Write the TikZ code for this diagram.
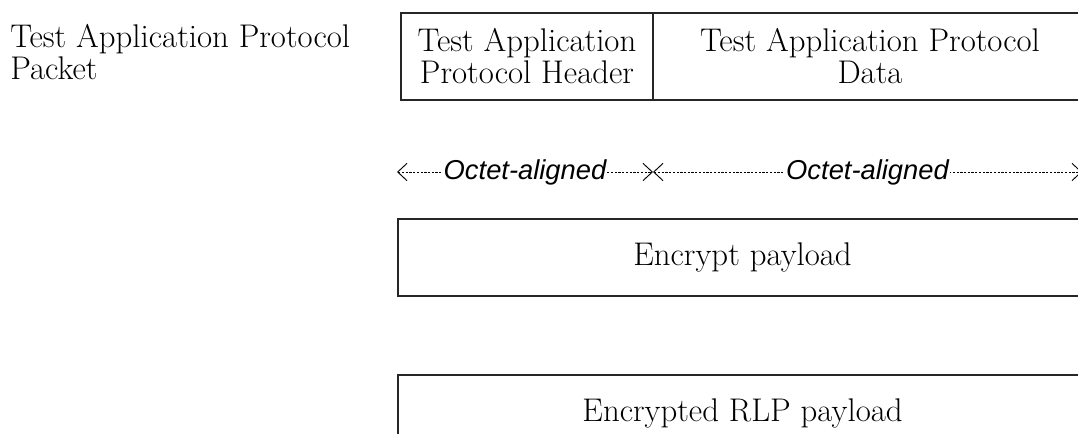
\documentclass[tikz,border=0pt]{standalone}
\usepackage{fontspec}
\newfontfamily\labelsans{Liberation Sans}
\usetikzlibrary{arrows.meta}

\tikzset{
  field/.style={draw=black!85, line width=0.9pt, inner sep=0pt, align=center,
                font=\fontsize{24.6}{24}\selectfont},
  caption/.style={inner sep=0pt, align=left, font=\fontsize{24.6}{24}\selectfont},
  barb/.tip={Straight Barb[length=7pt,width=13pt,line width=0.7pt]},
  octet/.style={draw=black, line width=0.75pt, dash pattern=on 1.7pt off 1.1pt,
                barb-barb},
  octetlabel/.style={fill=white, inner xsep=0.6pt, inner ysep=1pt,
                     font=\labelsans\itshape\fontsize{20.5}{22}\selectfont}
}

\begin{document}
\begin{tikzpicture}[x=0.75pt,y=-0.75pt]
  \useasboundingbox (0,0) rectangle (1078,433);
  \clip (0,0) rectangle (1078,433);

  % packet caption
  \node[caption, anchor=north west] (cap) at (10,24) {Test Application Protocol\\Packet};

  % packet fields
  \node[field, minimum width=189pt, minimum height=65.25pt] (hdr) at (527,56.5)
       {Test Application\\Protocol Header};
  \node[field, minimum width=325.5pt, minimum height=65.25pt] (data) at (870,56.5)
       {Test Application Protocol\\Data};

  % octet alignment markers
  \coordinate (o0) at (397,172);
  \coordinate (o1) at (653,172);
  \coordinate (o2) at (1082,172);
  \draw[octet] (o0) -- (o1) node[octetlabel, midway] (al1) {Octet-aligned};
  \draw[octet] (o1) -- (o2) node[octetlabel, midway] (al2) {Octet-aligned};

  % payload stages
  \node[field, minimum width=516.75pt, minimum height=57.75pt] (enc) at (742.5,257.5)
       {Encrypt payload};
  \node[field, minimum width=516.75pt, minimum height=57.75pt] (rlp) at (742.5,413.5)
       {Encrypted RLP payload};
\end{tikzpicture}
\end{document}
